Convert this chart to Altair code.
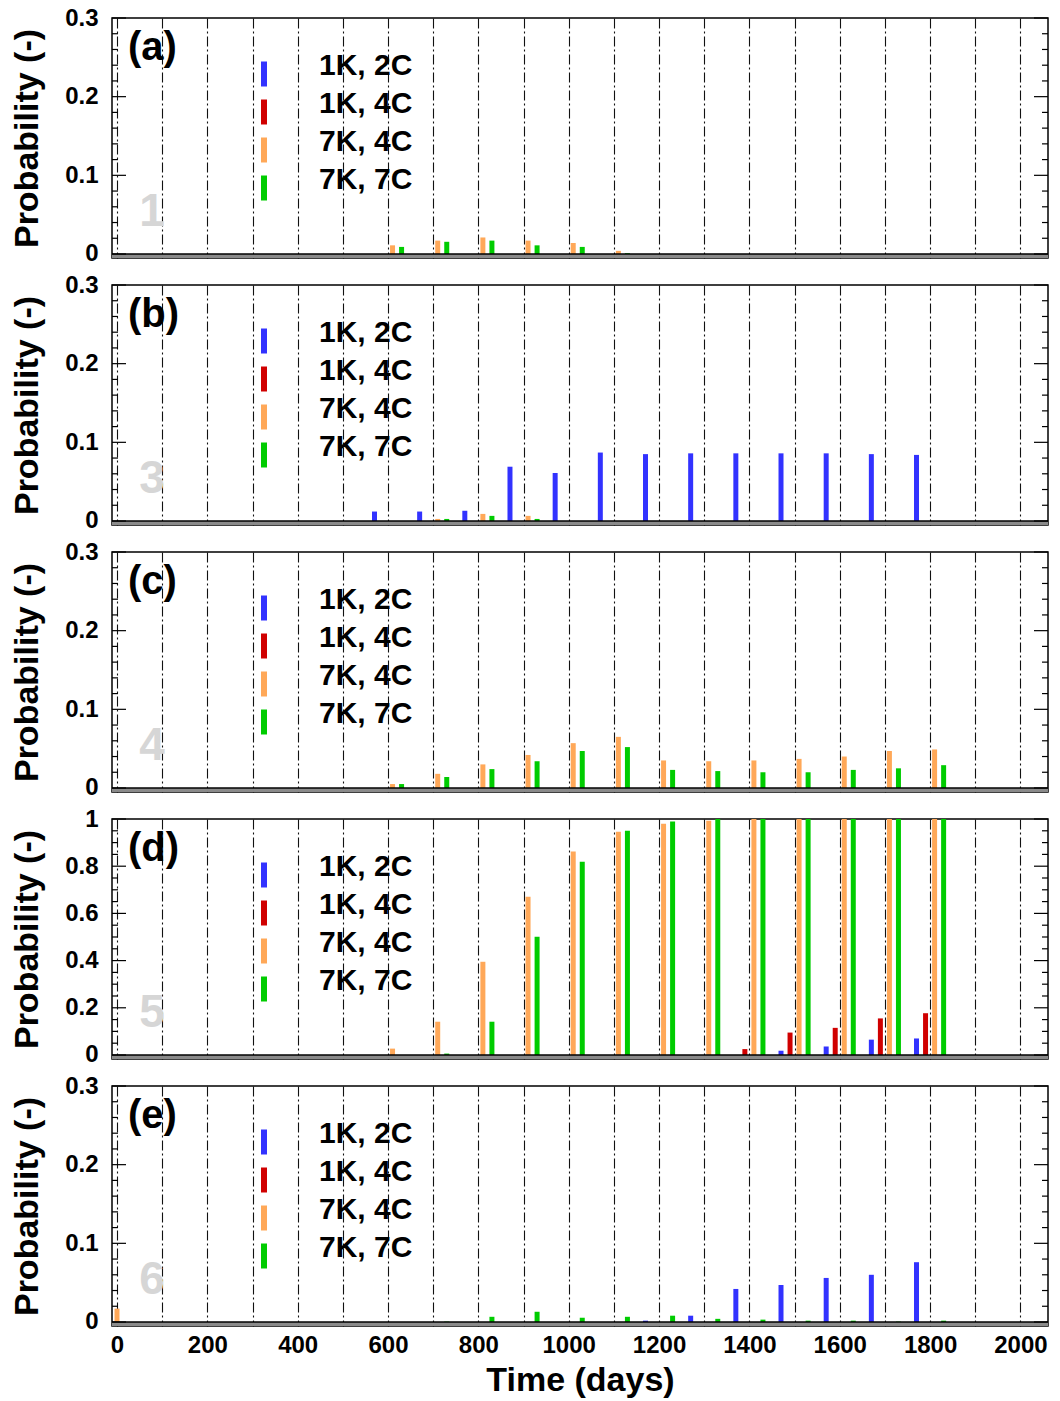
import altair as alt
import pandas as pd

FONT = "Liberation Sans"

series = ["1K, 2C", "1K, 4C", "7K, 4C", "7K, 7C"]
colors = ["#3232FF", "#D00000", "#FFA858", "#00CC00"]
times = [600, 700, 800, 900, 1000, 1100, 1200, 1300, 1400, 1500, 1600, 1700, 1800]

panel_letters = ["(a)", "(b)", "(c)", "(d)", "(e)"]
panel_numbers = ["1", "3", "4", "5", "6"]

# ---- panel (a)
a_1k2c = [0, 0, 0, 0, 0, 0, 0, 0, 0, 0, 0, 0, 0]
a_1k4c = [0, 0, 0, 0, 0, 0, 0, 0, 0, 0, 0, 0, 0]
a_7k4c = [0.011, 0.017, 0.021, 0.017, 0.014, 0.004, 0, 0, 0, 0, 0, 0, 0]
a_7k7c = [0.009, 0.0155, 0.017, 0.011, 0.009, 0.001, 0, 0, 0, 0, 0, 0, 0]

# ---- panel (b)
b_1k2c = [0.012, 0.012, 0.013, 0.069, 0.061, 0.087, 0.085, 0.086, 0.086, 0.086, 0.086, 0.085, 0.084]
b_1k4c = [0, 0, 0, 0, 0, 0, 0, 0, 0, 0, 0, 0, 0]
b_7k4c = [0, 0.0026, 0.009, 0.0065, 0, 0, 0, 0, 0, 0, 0, 0, 0]
b_7k7c = [0, 0.0026, 0.0065, 0.0026, 0, 0, 0, 0, 0, 0, 0, 0, 0]

# ---- panel (c)
c_1k2c = [0, 0, 0, 0, 0, 0, 0, 0, 0, 0, 0, 0, 0]
c_1k4c = [0, 0, 0, 0, 0, 0, 0, 0, 0, 0, 0, 0, 0]
c_7k4c = [0.005, 0.018, 0.030, 0.042, 0.057, 0.065, 0.035, 0.034, 0.035, 0.037, 0.040, 0.047, 0.049]
c_7k7c = [0.005, 0.014, 0.024, 0.034, 0.047, 0.052, 0.023, 0.0215, 0.020, 0.020, 0.023, 0.025, 0.029]

# ---- panel (d)
d_1k2c = [0, 0, 0, 0, 0, 0, 0, 0, 0, 0.018, 0.036, 0.065, 0.070]
d_1k4c = [0, 0, 0, 0, 0, 0, 0, 0, 0.025, 0.095, 0.115, 0.155, 0.177]
d_7k4c = [0.027, 0.141, 0.395, 0.671, 0.862, 0.946, 0.980, 0.993, 1.0, 1.0, 1.0, 1.0, 1.0]
d_7k7c = [0, 0.006, 0.141, 0.501, 0.819, 0.950, 0.989, 1.0, 1.0, 1.0, 1.0, 1.0, 1.0]

# ---- panel (e)
e_1k2c = [0, 0, 0, 0, 0, 0, 0.0017, 0.008, 0.042, 0.047, 0.056, 0.060, 0.076]
e_1k4c = [0, 0, 0, 0, 0, 0, 0, 0, 0, 0, 0, 0, 0]
e_7k4c = [0, 0, 0, 0, 0, 0, 0, 0, 0, 0, 0, 0, 0]
e_7k7c = [0, 0.0005, 0.0066, 0.013, 0.0054, 0.0066, 0.008, 0.004, 0.003, 0.0017, 0.0017, 0.0005, 0.0017]
e_7k4c_day0 = 0.017  # small bar at the very start of the run

panels_data = [
    [a_1k2c, a_1k4c, a_7k4c, a_7k7c],
    [b_1k2c, b_1k4c, b_7k4c, b_7k7c],
    [c_1k2c, c_1k4c, c_7k4c, c_7k7c],
    [d_1k2c, d_1k4c, d_7k4c, d_7k7c],
    [e_1k2c, e_1k4c, e_7k4c, e_7k7c],
]

OFFSETS = {"1K, 2C": -30, "1K, 4C": -10, "7K, 4C": 10, "7K, 7C": 30}
W, H = 936, 240


def make_panel(i, vals, ymax, majors, minors, show_x, extra=None):
    rows = []
    for s, arr in zip(series, vals):
        for t, v in zip(times, arr):
            if v > 0:
                rows.append({"series": s, "x": t + OFFSETS[s], "v": v})
    if extra:
        rows.extend(extra)
    df = pd.DataFrame(rows)

    ymin = -ymax * 0.017
    yscale = alt.Scale(domain=[ymin, ymax], nice=False, zero=False)
    xscale = alt.Scale(domain=[0, 2050], nice=False, zero=False)

    yaxis = alt.Axis(
        values=majors, format="~g", ticks=False, domain=False, grid=False,
        labelFont=FONT, labelFontSize=24, labelFontWeight="bold", labelColor="black",
        labelPadding=14, title="Probability (-)", titleFont=FONT, titleFontSize=34,
        titleFontWeight="bold", titleColor="black", titlePadding=20,
    )
    if show_x:
        xaxis = alt.Axis(
            values=list(range(0, 2001, 100)), grid=True, gridDash=[10, 3, 2, 3],
            gridColor="#111111", gridWidth=1.1, ticks=False, domain=False,
            labelExpr="datum.value % 200 === 0 ? datum.label : ''", format="d",
            labelOverlap=False, labelFlush=False,
            labelFont=FONT, labelFontSize=24, labelFontWeight="bold", labelColor="black",
            labelPadding=7, title="Time (days)", titleFont=FONT, titleFontSize=34,
            titleFontWeight="bold", titleColor="black", titlePadding=6,
        )
    else:
        xaxis = alt.Axis(
            values=list(range(0, 2001, 100)), grid=True, gridDash=[10, 3, 2, 3],
            gridColor="#111111", gridWidth=1.1, ticks=False, domain=False,
            labels=False, title=None,
        )

    X = alt.X("x:Q", scale=xscale, axis=xaxis)

    bars = alt.Chart(df).mark_bar(size=5, clip=True).encode(
        x=X,
        y=alt.Y("v:Q", scale=yscale, axis=yaxis),
        y2=alt.Y2(datum=0),
        color=alt.Color(
            "series:N",
            scale=alt.Scale(domain=series, range=colors),
            legend=alt.Legend(
                orient="none", legendX=137, legendY=33, title=None,
                symbolType="M-0.24,-0.36 h0.48 v2 h-0.48 Z", symbolSize=625,
                symbolStrokeWidth=0, symbolOpacity=1,
                labelFont=FONT, labelFontSize=30, labelFontWeight="bold",
                labelColor="black", labelOffset=40, rowPadding=2, padding=0,
            ),
        ),
    )

    band_df = pd.DataFrame({"lo": [ymin], "hi": [0.0]})
    band = alt.Chart(band_df).mark_rect(color="#8a8a8a").encode(
        y=alt.Y("lo:Q", scale=yscale, axis=yaxis),
        y2="hi:Q",
        x=alt.value(0), x2=alt.value(W),
    )
    zero = alt.Chart(band_df).mark_rule(color="black", strokeWidth=1.5).encode(
        y=alt.Y("hi:Q", scale=yscale, axis=yaxis),
        x=alt.value(0), x2=alt.value(W),
    )

    maj_df = pd.DataFrame({"v": majors})
    min_df = pd.DataFrame({"v": minors})
    tick_layers = []
    for d, ln in ((maj_df, 14), (min_df, 6)):
        tick_layers.append(
            alt.Chart(d).mark_rule(color="black", strokeWidth=1.2).encode(
                y=alt.Y("v:Q", scale=yscale, axis=yaxis),
                x=alt.value(0), x2=alt.value(ln),
            )
        )
        tick_layers.append(
            alt.Chart(d).mark_rule(color="black", strokeWidth=1.2).encode(
                y=alt.Y("v:Q", scale=yscale, axis=yaxis),
                x=alt.value(W - ln), x2=alt.value(W),
            )
        )

    letter = alt.Chart(pd.DataFrame({"t": [panel_letters[i]]})).mark_text(
        align="left", baseline="alphabetic", font=FONT, fontSize=40,
        fontWeight="bold", color="black",
    ).encode(x=alt.value(16), y=alt.value(42), text="t:N")

    number = alt.Chart(pd.DataFrame({"t": [panel_numbers[i]]})).mark_text(
        align="center", baseline="alphabetic", font=FONT, fontSize=46,
        fontWeight="bold", color="#D6D6D6",
    ).encode(x=alt.value(40), y=alt.value(208), text="t:N")

    return alt.layer(band, number, bars, zero, *tick_layers, letter).properties(
        width=W, height=H
    )


maj_small = [0, 0.1, 0.2, 0.3]
min_small = [round(k * 0.02, 3) for k in range(16) if k % 5 != 0]
maj_big = [0, 0.2, 0.4, 0.6, 0.8, 1.0]
min_big = [round(k * 0.05, 3) for k in range(21) if k % 4 != 0]

panels = []
for i, vals in enumerate(panels_data):
    if i == 3:
        panels.append(make_panel(i, vals, 1.0, maj_big, min_big, False))
    elif i == 4:
        extra = [{"series": "7K, 4C", "x": 0, "v": e_7k4c_day0}]
        panels.append(make_panel(i, vals, 0.3, maj_small, min_small, True, extra))
    else:
        panels.append(make_panel(i, vals, 0.3, maj_small, min_small, False))

chart = alt.vconcat(*panels, spacing=27, bounds="flush").resolve_legend(
    color="independent"
).configure_view(stroke="black", strokeWidth=1.5).properties(
    padding={"left": 9, "top": 5, "right": 10, "bottom": 5},
    background="white",
)

chart.save("out.html", embed_options={"renderer": "svg", "actions": False})
